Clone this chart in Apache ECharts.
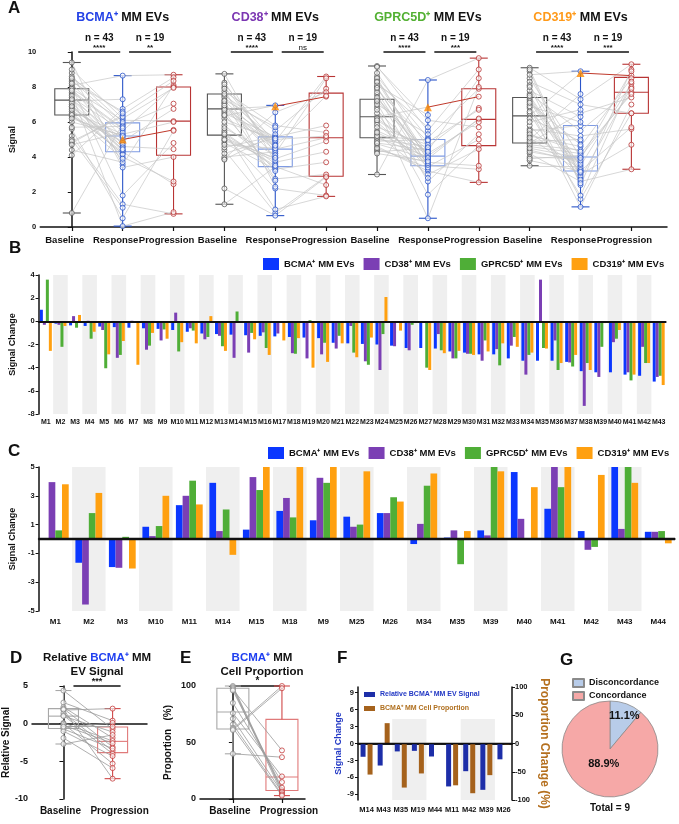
<!DOCTYPE html>
<html>
<head>
<meta charset="utf-8">
<style>
  html, body { margin: 0; padding: 0; background: #fff; }
  #chart { width: 679px; height: 824px; }
</style>
<script src="https://cdn.jsdelivr.net/npm/echarts@6/dist/echarts.min.js"></script>
</head>
<body>
<div id="chart"></div>
<script>
// ---------- panel A data ----------
const stageLabels = ['Baseline', 'Response', 'Progression'];
const groupNames = ['BCMA⁺', 'CD38⁺', 'GPRC5D⁺', 'CD319⁺'];
const titleColors = ['#2442e6', '#7b36b2', '#52b032', '#ff9a1a'];
const nLabels = ['n = 43', 'n = 19'];
const sigBaseResp = ['****', '****', '****', '****'];
const sigRespProg = ['**', 'ns', '***', '***'];

// index 0 of each response / progression list is the highlighted patient (orange triangle)
const bcmaBase = [7.3, 8.1, 6.4, 9.4, 7.9, 5.2, 8.4, 6.9, 7.6, 4.1, 8.8, 6.6, 7.0, 4.8, 8.0, 7.4, 6.3, 5.6, 9.0, 7.2, 0.8, 6.5, 8.3, 4.4, 7.7, 6.8, 5.0, 8.6, 7.1, 6.0, 4.9, 7.9, 8.2, 6.7, 5.7, 7.5, 4.7, 6.4, 8.5, 7.3, 6.2, 7.8, 6.9];
const bcmaResp = [5.0, 8.65, 4.3, 3.55, 6.1, 1.3, 5.8, 4.6, 0.05, 6.75, 3.4, 5.3, 4.0, 6.4, 1.8, 5.5, 4.9, 0.5, 6.2, 7.3, 5.9, 4.2, 6.6, 3.7, 5.6, 4.8, 1.1, 6.0, 4.35, 5.25, 6.3, 4.7, 5.1, 4.15, 5.75, 4.55, 5.4, 3.9, 6.5, 4.4, 5.2, 5.65, 4.45];
const bcmaProg = [5.55, 8.7, 2.45, 8.1, 6.05, 0.75, 7.05, 4.45, 0.85, 8.55, 4.0, 6.0, 2.6, 8.35, 4.8, 8.0, 6.75, 5.5, 7.95];
const bcmaBox = [[0.8, 6.4, 7.25, 7.9, 9.4], [0.05, 4.3, 5.2, 5.95, 8.65], [0.75, 4.1, 6.05, 8.0, 8.7]];

const cd38Base = [6.75, 8.0, 5.25, 7.5, 4.4, 8.75, 6.2, 3.9, 7.1, 1.3, 6.5, 5.5, 8.25, 4.8, 7.75, 6.9, 2.2, 5.1, 7.4, 6.35, 4.0, 7.25, 5.8, 8.15, 6.6, 4.55, 7.05, 5.4, 6.8, 3.85, 7.9, 5.65, 6.4, 4.2, 7.6, 4.95, 6.7, 5.3, 6.95, 4.7, 6.0, 7.2, 5.0];
const cd38Resp = [6.9, 4.45, 2.2, 5.5, 0.8, 3.7, 4.9, 6.55, 2.75, 3.45, 5.15, 1.0, 4.2, 3.3, 5.8, 4.6, 0.65, 3.9, 5.0, 6.95, 4.3, 5.7, 3.6, 4.8, 2.65, 5.2, 4.0, 3.4, 4.55, 5.3, 2.3, 4.1, 3.2, 5.1, 4.7, 3.8, 4.4, 3.5, 4.95, 4.5, 5.05, 4.65, 3.95];
const cd38Prog = [7.45, 5.1, 1.8, 7.9, 2.9, 4.3, 8.6, 7.7, 3.0, 2.4, 5.8, 1.75, 8.5, 3.7, 5.4, 7.5, 2.85, 4.9, 5.2];
const cd38Box = [[1.3, 5.25, 6.75, 7.6, 8.75], [0.65, 3.45, 4.45, 5.15, 6.95], [1.75, 2.9, 5.1, 7.65, 8.6]];

const gprcBase = [6.3, 8.4, 4.6, 9.2, 7.1, 5.0, 8.0, 3.0, 7.55, 5.5, 8.6, 4.4, 6.85, 7.85, 5.3, 9.15, 4.75, 7.3, 6.0, 8.25, 5.1, 7.7, 4.3, 8.1, 5.85, 7.4, 4.9, 6.5, 8.5, 5.7, 7.0, 4.5, 6.2, 7.95, 5.2, 8.3, 4.8, 6.7, 7.2, 5.4, 8.8, 4.2, 6.1];
const gprcResp = [6.85, 4.05, 3.2, 5.5, 1.85, 4.6, 3.5, 8.4, 2.6, 4.2, 5.1, 3.7, 0.5, 4.85, 3.0, 6.1, 3.9, 4.35, 3.45, 5.7, 4.0, 3.3, 4.5, 6.4, 3.6, 4.1, 5.0, 2.8, 3.8, 4.7, 5.3, 3.4, 4.25, 3.55, 4.95, 3.85, 4.4, 3.65, 4.15, 3.95, 4.55, 3.75, 4.3];
const gprcProg = [7.45, 6.15, 2.55, 9.0, 4.65, 6.8, 3.3, 9.65, 5.3, 6.0, 7.9, 3.5, 8.0, 6.7, 4.45, 5.7, 6.2, 8.5, 5.0];
const gprcBox = [[3.0, 5.1, 6.3, 7.3, 9.2], [0.5, 3.5, 4.05, 5.0, 8.4], [2.55, 4.65, 6.15, 7.9, 9.65]];

const cd319Base = [6.35, 8.5, 4.2, 9.1, 7.0, 3.5, 5.6, 8.9, 4.8, 7.3, 5.2, 6.8, 4.0, 8.3, 5.8, 7.6, 3.8, 6.5, 4.6, 8.7, 5.4, 7.8, 4.4, 6.2, 9.0, 5.0, 7.4, 4.7, 6.0, 8.1, 5.5, 7.2, 3.9, 6.6, 4.9, 7.5, 5.3, 8.0, 4.3, 6.9, 5.1, 7.1, 4.5];
const cd319Resp = [8.8, 4.0, 2.6, 7.3, 1.6, 3.5, 5.2, 2.4, 6.5, 3.0, 4.6, 1.15, 3.9, 7.0, 2.8, 5.5, 3.2, 1.8, 4.2, 8.9, 3.3, 6.3, 3.7, 4.9, 2.9, 7.6, 3.1, 4.4, 6.7, 3.4, 5.8, 2.7, 4.1, 3.6, 5.0, 3.25, 4.3, 2.5, 3.8, 6.0, 3.15, 4.7, 3.95];
const cd319Prog = [8.65, 7.7, 3.3, 9.3, 6.5, 8.2, 5.6, 9.0, 7.4, 4.7, 8.5, 7.0, 8.9, 6.5, 8.0, 7.9, 5.7, 8.3, 7.6];
const cd319Box = [[3.5, 4.8, 6.35, 7.4, 9.1], [1.15, 3.2, 4.0, 5.8, 8.9], [3.3, 6.5, 7.7, 8.55, 9.3]];

// ---------- panel B data ----------
const bCats = Array.from({ length: 43 }, (_, i) => 'M' + (i + 1));
const bBcma = [1.0, -0.2, -0.35, -0.4, -0.45, -0.5, -0.55, -0.6, -0.65, -0.75, -0.9, -1.05, -1.1, -1.15, -1.2, -1.25, -1.3, -1.35, -1.4, -1.45, -1.85, -1.9, -1.95, -2.0, -2.1, -2.3, -2.3, -2.35, -2.6, -2.7, -2.85, -2.85, -3.2, -3.4, -3.4, -3.4, -3.5, -4.3, -4.4, -4.4, -4.6, -4.7, -5.2];
const bCd38 = [-0.3, -0.3, 0.45, 0.05, -0.75, -3.15, 0.05, -2.45, -1.65, 0.75, -0.6, -1.55, -1.25, -3.15, -2.7, -0.95, -1.05, -2.75, -3.2, -2.85, -2.35, -0.4, -3.45, -4.2, -2.15, -2.5, 0, -1.1, -3.2, -2.8, -3.4, -2.4, -2.1, -4.6, 3.6, -1.65, -3.55, -7.3, -4.8, -1.8, -4.4, -2.2, -4.8];
const bGprc = [3.6, -2.2, -0.55, -1.5, -4.05, -2.9, 0, -2.1, -0.7, -2.6, -0.8, -1.35, -2.15, 0.85, -1.0, -2.3, 0, -2.8, 0.1, -1.85, -1.25, -2.7, -3.75, -1.1, 0, -0.3, -4.0, -2.5, -3.2, -2.8, -1.65, -3.8, -1.35, -2.9, -2.3, -4.2, -3.9, -3.6, -2.2, -1.5, -5.1, -3.6, -4.7];
const bCd319 = [-2.55, -0.4, 0.55, -0.9, -2.85, -1.7, -3.75, -1.0, -1.5, -1.8, -1.9, 0.45, -2.55, -0.1, -1.55, -2.9, -1.65, -1.45, -4.0, -3.5, -1.9, -3.1, -1.4, 2.1, -0.8, -0.1, -4.2, -2.75, -2.55, -2.9, -2.6, -1.9, -2.2, -2.7, -2.35, -3.6, -2.9, -4.2, -0.15, -0.75, -4.6, -3.6, -5.5];

// ---------- panel C data ----------
const cCats = ['M1', 'M2', 'M3', 'M10', 'M11', 'M14', 'M15', 'M18', 'M9', 'M25', 'M26', 'M34', 'M35', 'M39', 'M40', 'M41', 'M42', 'M43', 'M44'];
const cBcma = [0, -1.65, -1.95, 0.85, 2.35, 3.9, 0.65, 1.95, 1.3, 1.55, 1.8, -0.35, 0.1, 0.6, 4.65, 2.1, 0.55, 5, 0.5];
const cCd38 = [3.95, -4.55, -2.0, 0.2, 3.0, 0.55, 4.3, 2.85, 4.25, 0.85, 1.8, 1.05, 0.6, 0.25, 1.4, 5, -0.75, 0.7, 0.5];
const cGprc = [0.6, 1.8, 0.15, 0.9, 4.05, 2.05, 3.4, 1.5, 3.9, 1.0, 2.9, 3.7, -1.75, 5, 0, 3.6, -0.55, 5, 0.55];
const cCd319 = [3.8, 3.2, -2.05, 3.0, 2.4, -1.1, 5, 5, 5, 4.7, 2.6, 4.55, 0.55, 4.7, 3.6, 5, 4.45, 3.9, -0.3];

const seriesNames = ['BCMA⁺ MM EVs', 'CD38⁺ MM EVs', 'GPRC5D⁺ MM EVs', 'CD319⁺ MM EVs'];
const barColors = ['#0b37ff', '#7b3fb4', '#4fae37', '#ffa010'];

// ---------- panel D / E data ----------
const dBase = [4.4, 2.8, 2.2, 2.0, 1.8, 1.4, 1.1, 1.0, 0.1, 0.0, -0.2, -0.5, -0.7, -1.0, -1.9, -2.7, 1.9, -0.4];
const dProg = [-0.7, 0.4, -1.9, -3.1, 2.0, -3.6, -4.0, -1.1, -2.3, -5.3, -2.6, 0.1, -3.3, -4.3, -5.9, -1.5, -7.3, -0.4];
const dBox = [[-2.7, -0.65, 1.0, 2.0, 4.4], [-7.3, -3.85, -2.35, -0.45, 2.0]];
const eBase = [100, 99, 98, 97, 96, 85, 76, 71, 66, 63, 62, 61, 40];
const eProg = [8, 7, 5, 43, 10, 15, 20, 6, 4, 3, 100, 98, 37];
const eBox = [[40, 62, 77, 98, 100], [3, 7.5, 19.5, 70.5, 100]];
const deLabels = ['Baseline', 'Progression'];

// ---------- panel F / G data ----------
const fCats = ['M14', 'M43', 'M35', 'M19', 'M44', 'M11', 'M42', 'M39', 'M26'];
const fSignal = [-2.35, -3.9, -1.4, -1.3, -2.3, -7.6, -4.9, -8.2, -2.8];
const fProp = [-55, 36, -78, -53, -1, -74, -88, -56, -1.5];
const gNames = ['Disconcordance', 'Concordance'];
const gCounts = [1, 8];
const gColors = ['#b8cce9', '#f6a8a7'];

// ---------- helpers ----------
const FONT = '"Liberation Sans", Arial, sans-serif';
const INK = '#111';
const lineAx = w => ({ show: true, lineStyle: { color: INK, width: w } });
const lbl = (size, extra) => Object.assign({ color: INK, fontWeight: 'bold', fontSize: size, fontFamily: FONT }, extra || {});
const nameStyle = (size, color) => ({ color: color || INK, fontWeight: 'bold', fontSize: size, fontFamily: FONT });

function boxSeries(xi, yi, items, colors, halfW, capW) {
  return {
    type: 'custom', xAxisIndex: xi, yAxisIndex: yi, z: 2, silent: true,
    data: items,
    renderItem: function (params, api) {
      const x = api.value(0);
      const c = colors[params.dataIndex];
      const p = k => api.coord([x, api.value(k)]);
      const pMin = p(1), pQ1 = p(2), pMed = p(3), pQ3 = p(4), pMax = p(5);
      const cx = pMin[0];
      const bs = { stroke: c.box, lineWidth: 1.1, fill: 'rgba(0,0,0,0)' };
      const ws = { stroke: c.whisker, lineWidth: 1.1 };
      return { type: 'group', children: [
        { type: 'rect', shape: { x: cx - halfW, y: pQ3[1], width: 2 * halfW, height: pQ1[1] - pQ3[1] }, style: bs },
        { type: 'line', shape: { x1: cx - halfW, y1: pMed[1], x2: cx + halfW, y2: pMed[1] }, style: bs },
        { type: 'line', shape: { x1: cx, y1: pQ3[1], x2: cx, y2: pMax[1] }, style: ws },
        { type: 'line', shape: { x1: cx, y1: pQ1[1], x2: cx, y2: pMin[1] }, style: ws },
        { type: 'line', shape: { x1: cx - capW, y1: pMax[1], x2: cx + capW, y2: pMax[1] }, style: ws },
        { type: 'line', shape: { x1: cx - capW, y1: pMin[1], x2: cx + capW, y2: pMin[1] }, style: ws }
      ] };
    }
  };
}

function dots(xi, yi, data, color, size) {
  return {
    type: 'scatter', xAxisIndex: xi, yAxisIndex: yi, z: 4, silent: true,
    symbol: 'circle', symbolSize: size || 5, data: data,
    itemStyle: { color: 'rgba(255,255,255,0.75)', borderColor: color, borderWidth: 1 }
  };
}

function links(xi, yi, data, color, width, z) {
  return {
    type: 'lines', coordinateSystem: 'cartesian2d', xAxisIndex: xi, yAxisIndex: yi,
    z: z || 3, silent: true, data: data,
    lineStyle: { color: color, width: width, opacity: 1 }
  };
}

// ---------- build panel A series ----------
const aSets = [
  [bcmaBase, bcmaResp, bcmaProg, bcmaBox],
  [cd38Base, cd38Resp, cd38Prog, cd38Box],
  [gprcBase, gprcResp, gprcProg, gprcBox],
  [cd319Base, cd319Resp, cd319Prog, cd319Box]
];
const stageColors = [
  { box: '#555555', whisker: '#555555', dot: '#5a5a5a' },
  { box: '#7f9be3', whisker: '#2b55c9', dot: '#2b55c9' },
  { box: '#b83434', whisker: '#b83434', dot: '#b83434' }
];
const aTicks = Array.from({ length: 12 }, (_, i) => i);

const series = [];
const aBoxItems = [], aBoxColors = [], aGray = [], aRed = [], aTri = [];
const aDots = [[], [], []];
aSets.forEach(function (set, g) {
  const [base, resp, prog, box] = set;
  const x0 = 3 * g;
  box.forEach(function (s, k) { aBoxItems.push([x0 + k].concat(s)); aBoxColors.push(stageColors[k]); });
  base.forEach(function (v, i) { aGray.push({ coords: [[x0, v], [x0 + 1, resp[i]]] }); });
  prog.forEach(function (v, j) {
    const seg = { coords: [[x0 + 1, resp[j]], [x0 + 2, v]] };
    (j === 0 ? aRed : aGray).push(seg);
  });
  base.forEach(v => aDots[0].push([x0, v]));
  resp.forEach((v, i) => { if (i > 0) aDots[1].push([x0 + 1, v]); });
  prog.forEach(v => aDots[2].push([x0 + 2, v]));
  aTri.push([x0 + 1, resp[0]]);
});
series.push(boxSeries(0, 0, aBoxItems, aBoxColors, 17, 9));
series.push(links(0, 0, aGray, '#c6c6c6', 0.7, 3));
series.push(links(0, 0, aRed, '#c0392b', 1, 3));
aDots.forEach((d, k) => series.push(dots(0, 0, d, stageColors[k].dot, 5)));
series.push({ type: 'scatter', xAxisIndex: 0, yAxisIndex: 0, z: 6, silent: true, symbol: 'triangle', symbolSize: 8, data: aTri, itemStyle: { color: '#ff8a00' } });

// ---------- panels B and C ----------
const bVals = [bBcma, bCd38, bGprc, bCd319];
const cVals = [cBcma, cCd38, cGprc, cCd319];
const zeroLine = w => ({ silent: true, symbol: 'none', label: { show: false }, data: [{ yAxis: 0 }], lineStyle: { color: INK, width: w, type: 'solid' } });
bVals.forEach(function (vals, k) {
  const s = { name: seriesNames[k], type: 'bar', xAxisIndex: 1, yAxisIndex: 1, data: vals, barGap: '0%', barCategoryGap: '18%', itemStyle: { color: barColors[k] }, silent: true };
  if (k === 0) s.markLine = zeroLine(1.8);
  series.push(s);
});
cVals.forEach(function (vals, k) {
  const s = { name: seriesNames[k], type: 'bar', xAxisIndex: 2, yAxisIndex: 2, data: vals, barGap: '0%', barCategoryGap: '20%', itemStyle: { color: barColors[k] }, silent: true };
  if (k === 0) s.markLine = zeroLine(2.4);
  series.push(s);
});

// ---------- panels D and E ----------
const deColors = [
  { box: '#a8a8a8', whisker: '#a8a8a8', dot: '#8a8a8a' },
  { box: '#e07a7a', whisker: '#d04848', dot: '#c43c3c' }
];
series.push(boxSeries(3, 3, dBox.map((s, k) => [k].concat(s)), deColors, 15, 8));
series.push(links(3, 3, dBase.map((v, i) => ({ coords: [[0, v], [1, dProg[i]]] })), '#9a9a9a', 0.8, 3));
series.push(dots(3, 3, dBase.map(v => [0, v]), deColors[0].dot, 5));
series.push(dots(3, 3, dProg.map(v => [1, v]), deColors[1].dot, 5));
series.push(boxSeries(4, 4, eBox.map((s, k) => [k].concat(s)), deColors, 16, 8));
series.push(links(4, 4, eBase.map((v, i) => ({ coords: [[0, v], [1, eProg[i]]] })), '#9a9a9a', 0.8, 3));
series.push(dots(4, 4, eBase.map(v => [0, v]), deColors[0].dot, 5));
series.push(dots(4, 4, eProg.map(v => [1, v]), deColors[1].dot, 5));

// ---------- panel F ----------
series.push({ name: 'Relative BCMA⁺ MM EV Signal', type: 'bar', xAxisIndex: 5, yAxisIndex: 5, data: fSignal, barWidth: 5, barGap: '40%', itemStyle: { color: '#1d2ea8' }, silent: true, markLine: zeroLine(1.4) });
series.push({ name: 'BCMA⁺ MM Cell Proportion', type: 'bar', xAxisIndex: 5, yAxisIndex: 6, data: fProp, barWidth: 5, barGap: '40%', itemStyle: { color: '#a5621c' }, silent: true });

// ---------- panel G ----------
series.push({
  type: 'pie', center: [610, 749], radius: 48, startAngle: 90, clockwise: true, silent: true,
  percentPrecision: 1,
  data: gNames.map((n, i) => ({ name: n, value: gCounts[i], itemStyle: { color: gColors[i] } })),
  itemStyle: { borderColor: '#8a8a8a', borderWidth: 0.8 },
  label: { show: true, position: 'inside', formatter: '{d}%', color: INK, fontWeight: 'bold', fontSize: 11, fontFamily: FONT },
  labelLine: { show: false },
  labelLayout: p => (p.dataIndex === 0 ? { dx: 2.5, dy: -4 } : { dx: 1.5, dy: -5 })
});

const valueTickStyle = { length: 4, lineStyle: { color: INK, width: 1.2 } };
const deLabel = lbl(10, {
  customValues: [0, 1], margin: 7,
  formatter: v => (v === 0 ? '{a|' + deLabels[0] + '}' : '{b|' + deLabels[1] + '}'),
  rich: { a: lbl(10, { padding: [0, 6, 0, 0] }), b: lbl(10, { padding: [0, 0, 0, 14] }) }
});

const option = {
  animation: false,
  backgroundColor: '#fff',
  textStyle: { fontFamily: FONT },
  grid: [
    { left: 33, top: 52, width: 634, height: 175 },
    { left: 30, top: 275, width: 636, height: 139 },
    { left: 27, top: 467, width: 648, height: 144 },
    { left: 30, top: 686, width: 117, height: 113 },
    { left: 200, top: 686, width: 105, height: 113 },
    { left: 358, top: 687, width: 154, height: 113 },
    { left: 358, top: 719, width: 154, height: 81 }
  ],
  legend: [
    { data: seriesNames, left: 263, top: 258, width: 420, padding: 0, icon: 'rect', itemWidth: 16, itemHeight: 12, itemGap: 9, selectedMode: false, textStyle: lbl(9.5) },
    { data: seriesNames, left: 268, top: 447, width: 420, padding: 0, icon: 'rect', itemWidth: 16, itemHeight: 12, itemGap: 9, selectedMode: false, textStyle: lbl(9.5) },
    { data: [{ name: 'Relative BCMA⁺ MM EV Signal', textStyle: { color: '#2238c4' } }, { name: 'BCMA⁺ MM Cell Proportion', textStyle: { color: '#b07020' } }],
      left: 364, top: 691, padding: 0, orient: 'vertical', icon: 'rect', itemWidth: 11, itemHeight: 5, itemGap: 7, selectedMode: false, textStyle: lbl(7) },
    { data: gNames, left: 572, top: 678, padding: 0, orient: 'vertical', icon: 'rect', itemWidth: 11, itemHeight: 8, itemGap: 3, selectedMode: false, textStyle: lbl(9) }
  ],
  xAxis: [
    { gridIndex: 0, type: 'value', min: -0.62, max: 11.7, axisLine: lineAx(1.5), splitLine: { show: false },
      axisTick: Object.assign({ customValues: aTicks }, valueTickStyle),
      axisLabel: lbl(9.5, { customValues: aTicks, formatter: v => stageLabels[v % 3], margin: 8, padding: [0, 14, 0, 0] }) },
    { gridIndex: 1, type: 'category', data: bCats, axisLine: lineAx(1.5), axisTick: { alignWithLabel: true, length: 3, lineStyle: { color: INK } },
      axisLabel: lbl(7, { interval: 0, margin: 5 }), splitArea: { show: true, areaStyle: { color: ['rgba(0,0,0,0)', '#efefef'] } } },
    { gridIndex: 2, type: 'category', data: cCats, axisLine: lineAx(1.5), axisTick: { alignWithLabel: true, length: 3, lineStyle: { color: INK } },
      axisLabel: lbl(8, { interval: 0, margin: 7 }), splitArea: { show: true, areaStyle: { color: ['rgba(0,0,0,0)', '#efefef'] } } },
    { gridIndex: 3, type: 'value', min: -0.64, max: 1.7, axisLine: lineAx(1.5), splitLine: { show: false },
      axisTick: Object.assign({ customValues: [0, 1] }, valueTickStyle), axisLabel: deLabel },
    { gridIndex: 4, type: 'value', min: -0.67, max: 1.47, axisLine: lineAx(1.5), splitLine: { show: false },
      axisTick: Object.assign({ customValues: [0, 1] }, valueTickStyle), axisLabel: deLabel },
    { gridIndex: 5, type: 'category', data: fCats, axisLine: lineAx(1.5), axisTick: { alignWithLabel: true, length: 2, lineStyle: { color: INK } },
      axisLabel: lbl(7.5, { interval: 0, margin: 6 }) },
    { gridIndex: 5, type: 'category', data: fCats, position: 'top', axisLine: lineAx(1.5), axisTick: { show: false }, axisLabel: { show: false } },
    { gridIndex: 6, type: 'category', data: fCats, axisLine: { show: false }, axisTick: { show: false }, axisLabel: { show: false },
      splitArea: { show: true, areaStyle: { color: ['rgba(0,0,0,0)', '#efefef'] } } }
  ],
  yAxis: [
    { gridIndex: 0, type: 'value', min: 0, max: 10, interval: 2, name: 'Signal', nameLocation: 'middle', nameGap: 20, nameTextStyle: nameStyle(9),
      axisLine: lineAx(1.5), axisTick: { show: true, length: 4, lineStyle: { color: INK } }, splitLine: { show: false }, axisLabel: lbl(7.5, { margin: 4 }) },
    { gridIndex: 1, type: 'value', min: -8, max: 4, interval: 2, name: 'Signal Change', nameLocation: 'middle', nameGap: 20, nameTextStyle: nameStyle(9),
      axisLine: lineAx(1.5), axisTick: { show: true, length: 3, lineStyle: { color: INK } }, splitLine: { show: false }, axisLabel: lbl(7.5, { margin: 4 }) },
    { gridIndex: 2, type: 'value', min: -5, max: 5, interval: 2, name: 'Signal Change', nameLocation: 'middle', nameGap: 17, nameTextStyle: nameStyle(9),
      axisLine: lineAx(1.5), axisTick: { show: true, length: 3, lineStyle: { color: INK } }, splitLine: { show: false }, axisLabel: lbl(7.5, { margin: 4 }) },
    { gridIndex: 3, type: 'value', min: -10, max: 5, interval: 5, name: 'Relative Signal', nameLocation: 'middle', nameGap: 21, nameTextStyle: nameStyle(10),
      axisLine: lineAx(1.5), axisTick: { show: true, length: 4, lineStyle: { color: INK } }, splitLine: { show: false }, axisLabel: lbl(9, { margin: 4 }) },
    { gridIndex: 4, type: 'value', min: 0, max: 100, interval: 50, name: 'Proportion   (%)', nameLocation: 'middle', nameGap: 27, nameTextStyle: nameStyle(10),
      axisLine: lineAx(1.5), axisTick: { show: true, length: 4, lineStyle: { color: INK } }, splitLine: { show: false }, axisLabel: lbl(9, { margin: 4 }) },
    { gridIndex: 5, type: 'value', min: -10, max: 10, name: 'Signal Change', nameLocation: 'middle', nameGap: 14, nameTextStyle: nameStyle(9, '#2238c4'),
      axisLine: lineAx(1.5), axisTick: { show: true, length: 3, customValues: [-9, -6, -3, 0, 3, 6, 9], lineStyle: { color: INK } }, splitLine: { show: false },
      axisLabel: lbl(7.5, { margin: 4, customValues: [-9, -6, -3, 0, 3, 6, 9] }) },
    { gridIndex: 5, type: 'value', position: 'right', min: -100, max: 100, interval: 50, name: 'Proportion Change (%)', nameLocation: 'middle', nameRotate: -90, nameGap: 26,
      nameTextStyle: nameStyle(12, '#b5701f'), axisLine: lineAx(1.5), axisTick: { show: true, length: 3, lineStyle: { color: INK } }, splitLine: { show: false }, axisLabel: lbl(7.5, { margin: 3 }) },
    { gridIndex: 6, type: 'value', min: 0, max: 1, show: false }
  ],
  series: series
};

const chart = echarts.init(document.getElementById('chart'), null, { renderer: 'canvas' });
chart.setOption(option);

// ---------- annotations placed from axis coordinates ----------
const px = (i, pt) => chart.convertToPixel({ xAxisIndex: i, yAxisIndex: i }, pt);
const txt = (text, x, y, font, fill, align) => ({ type: 'text', silent: true, style: { text: text, x: x, y: y, font: font, fill: fill || INK, align: align || 'center', verticalAlign: 'middle' } });
const bar = (x1, x2, y) => ({ type: 'line', silent: true, shape: { x1: x1, y1: y, x2: x2, y2: y }, style: { stroke: INK, lineWidth: 1.3 } });
const g = [];
[['A', 8, 8], ['B', 9, 248], ['C', 8, 451], ['D', 10, 658], ['E', 180, 658], ['F', 337, 658], ['G', 560, 660]].forEach(function (l) {
  g.push(txt(l[0], l[1], l[2], 'bold 17px ' + FONT, INK, 'left'));
});
groupNames.forEach(function (name, k) {
  const pB = px(0, [3 * k, 10]), pR = px(0, [3 * k + 1, 10]), pP = px(0, [3 * k + 2, 10]);
  g.push({ type: 'text', silent: true, style: { text: '{c|' + name + '}{k| MM EVs}', x: pR[0], y: 18, align: 'center', verticalAlign: 'middle',
    rich: { c: { fill: titleColors[k], fontSize: 12.5, fontWeight: 'bold', fontFamily: FONT }, k: { fill: INK, fontSize: 12.5, fontWeight: 'bold', fontFamily: FONT } } } });
  const m1 = (pB[0] + pR[0]) / 2 + 2, m2 = (pR[0] + pP[0]) / 2 + 2, y = pR[1];
  g.push(txt(nLabels[0], m1, y - 14, 'bold 10px ' + FONT));
  g.push(txt(nLabels[1], m2, y - 14, 'bold 10px ' + FONT));
  g.push(bar(m1 - 21, m1 + 21, y));
  g.push(bar(m2 - 21, m2 + 21, y));
  g.push(txt(sigBaseResp[k], m1, y - 4, 'bold 8px ' + FONT));
  g.push(txt(sigRespProg[k], m2, y - 4, (sigRespProg[k] === 'ns' ? '' : 'bold ') + '8px ' + FONT));
});
const richTitle = (text, x, y) => ({ type: 'text', silent: true, style: { text: text, x: x, y: y, align: 'center', verticalAlign: 'middle', lineHeight: 14,
  rich: { b: { fill: '#1f3ff0', fontSize: 11.5, fontWeight: 'bold', fontFamily: FONT, lineHeight: 14 }, n: { fill: INK, fontSize: 11.5, fontWeight: 'bold', fontFamily: FONT, lineHeight: 14 } } } });
g.push(richTitle('{n|Relative }{b|BCMA⁺}{n| MM}\n{n|EV Signal}', 97, 665));
g.push(richTitle('{b|BCMA⁺}{n| MM}\n{n|Cell Proportion}', 262, 665));
const d0 = px(3, [0, 5]), d1 = px(3, [1, 5]);
g.push(bar(d0[0] + 10, d1[0] + 8, d0[1]));
g.push(txt('***', (d0[0] + d1[0]) / 2 + 9, d0[1] - 4, 'bold 9px ' + FONT));
const e0 = px(4, [0, 100]), e1 = px(4, [1, 100]);
g.push(bar(e0[0], e1[0], e0[1]));
g.push(txt('*', (e0[0] + e1[0]) / 2, e0[1] - 5, 'bold 10px ' + FONT));
g.push(txt('Total = 9', 610, 808, 'bold 10px ' + FONT));
chart.setOption({ graphic: g });
</script>
</body>
</html>
